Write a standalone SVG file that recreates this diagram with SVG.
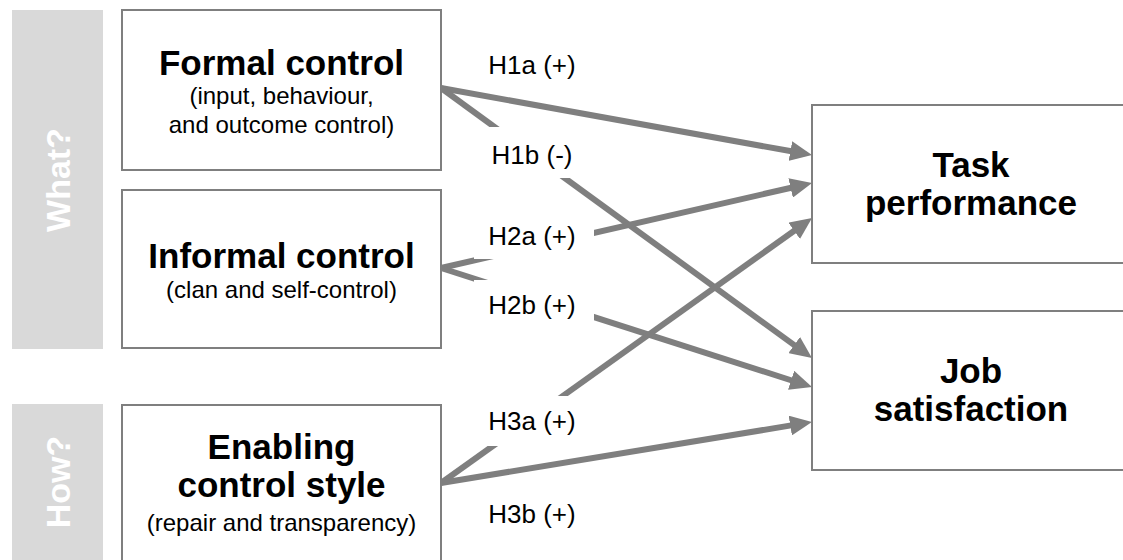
<svg xmlns="http://www.w3.org/2000/svg" width="1123" height="560" viewBox="0 0 1123 560">
<style>
.bar{fill:#d9d9d9}
.bartxt{font-family:"Liberation Sans",Arial,sans-serif;font-weight:bold;font-size:34px;fill:#ffffff;text-anchor:middle}
.box{fill:#ffffff;stroke:#7f7f7f;stroke-width:2}
.title{font-family:"Liberation Sans",Arial,sans-serif;font-weight:bold;font-size:35px;fill:#000;text-anchor:middle}
.sub{font-family:"Liberation Sans",Arial,sans-serif;font-size:24px;fill:#000;text-anchor:middle}
.edge{fill:none;stroke:#7f7f7f;stroke-width:6}
.lblbg{fill:#ffffff}
.lbl{font-family:"Liberation Sans",Arial,sans-serif;font-size:26px;fill:#000;text-anchor:middle}
</style>
<defs>
<marker id="arr" markerUnits="userSpaceOnUse" markerWidth="22" markerHeight="20" viewBox="0 0 22 20" refX="4" refY="10" orient="auto">
<path d="M0,0 L22,10 L0,20 z" fill="#7f7f7f"/>
</marker>
</defs>
<rect width="1123" height="560" fill="#ffffff"/>
<g id="what-bar">
<rect class="bar" x="12" y="10" width="91" height="339"/>
<text class="bartxt" transform="translate(70,180) rotate(-90)">What?</text>
</g>
<g id="how-bar">
<rect class="bar" x="12" y="404" width="91" height="160"/>
<text class="bartxt" transform="translate(70,482) rotate(-90)">How?</text>
</g>
<g id="connectors">
<line class="edge" x1="441" y1="88" x2="794.3" y2="151.8" marker-end="url(#arr)"/>
<line class="edge" x1="441" y1="88" x2="797.4" y2="347.4" marker-end="url(#arr)"/>
<line class="edge" x1="441" y1="268" x2="794.5" y2="187" marker-end="url(#arr)"/>
<line class="edge" x1="441" y1="268" x2="794.9" y2="381.5" marker-end="url(#arr)"/>
<line class="edge" x1="441" y1="483" x2="797.4" y2="228.5" marker-end="url(#arr)"/>
<line class="edge" x1="441" y1="483" x2="794.2" y2="424.9" marker-end="url(#arr)"/>
<g id="label-h1a"><rect class="lblbg" x="474" y="39" width="120" height="50"/><text class="lbl" x="532" y="74">H1a (+)</text></g>
<g id="label-h1b"><rect class="lblbg" x="474" y="127" width="120" height="51"/><text class="lbl" x="532" y="164">H1b (-)</text></g>
<g id="label-h2a"><rect class="lblbg" x="474" y="209" width="120" height="50"/><text class="lbl" x="532" y="245">H2a (+)</text></g>
<g id="label-h2b"><rect class="lblbg" x="474" y="280" width="120" height="50"/><text class="lbl" x="532" y="314">H2b (+)</text></g>
<g id="label-h3a"><rect class="lblbg" x="474" y="396" width="120" height="50"/><text class="lbl" x="532" y="430">H3a (+)</text></g>
<g id="label-h3b"><rect class="lblbg" x="474" y="488" width="120" height="50"/><text class="lbl" x="532" y="523">H3b (+)</text></g>
</g>
<g id="formal-control">
<rect class="box" x="122" y="10" width="319" height="160"/>
<text class="title" x="281.5" y="75">Formal control</text>
<text class="sub" x="281.5" y="104">(input, behaviour,</text>
<text class="sub" x="281.5" y="133">and outcome control)</text>
</g>
<g id="informal-control">
<rect class="box" x="122" y="190" width="319" height="158"/>
<text class="title" x="281.5" y="268">Informal control</text>
<text class="sub" x="281.5" y="298">(clan and self-control)</text>
</g>
<g id="enabling-control-style">
<rect class="box" x="122" y="405" width="319" height="165"/>
<text class="title" x="281.5" y="459">Enabling</text>
<text class="title" x="281.5" y="497">control style</text>
<text class="sub" x="281.5" y="531">(repair and transparency)</text>
</g>
<g id="task-performance">
<rect class="box" x="812" y="105" width="319" height="158"/>
<text class="title" x="971" y="177">Task</text>
<text class="title" x="971" y="215">performance</text>
</g>
<g id="job-satisfaction">
<rect class="box" x="812" y="311" width="319" height="159"/>
<text class="title" x="971" y="383">Job</text>
<text class="title" x="971" y="421">satisfaction</text>
</g>
</svg>
